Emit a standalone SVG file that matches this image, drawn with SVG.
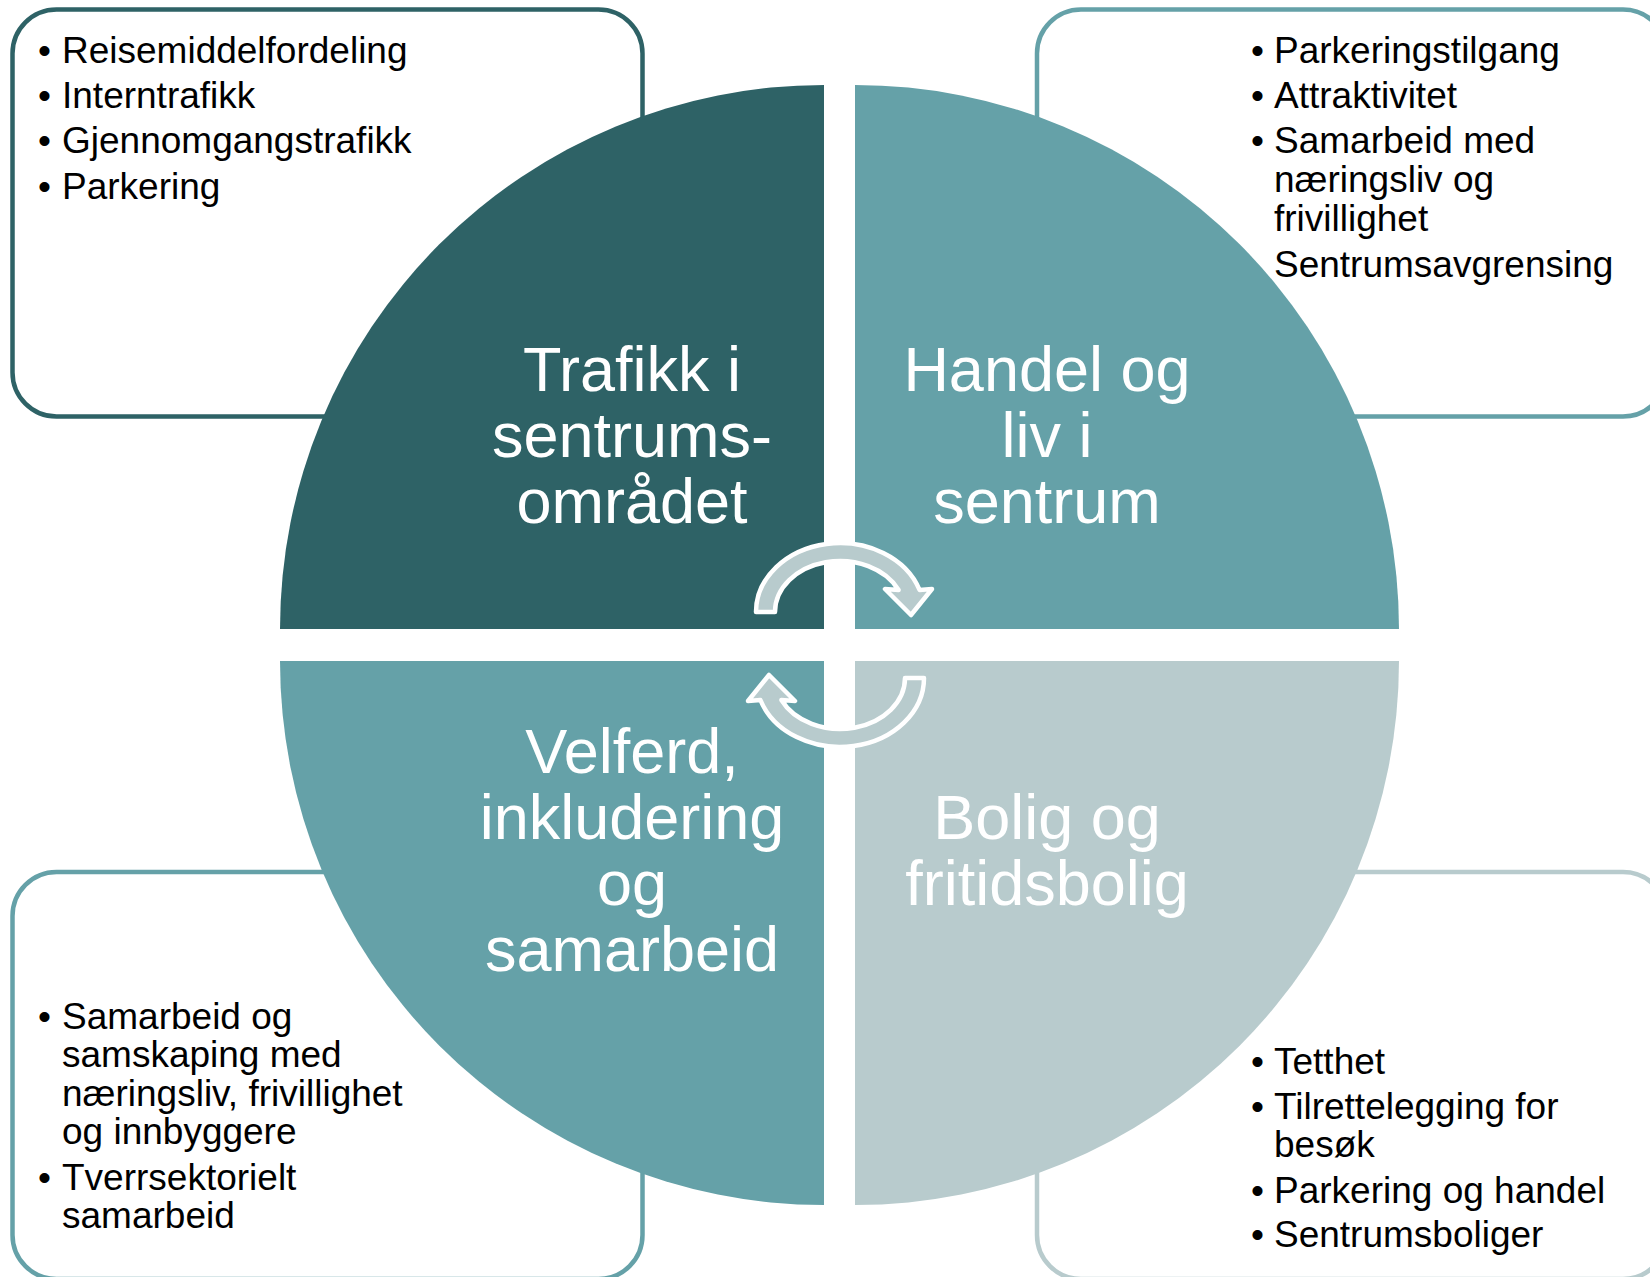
<svg xmlns="http://www.w3.org/2000/svg" width="1650" height="1277" viewBox="0 0 1650 1277">
<style>
.box{fill:#fff;stroke-width:4.5}
.dark{fill:#2E6266}
.mid{fill:#65A1A8}
.light{fill:#B8CBCD}
.list{font-family:"Liberation Sans",Arial,sans-serif;font-size:37px;fill:#000}
.title{font-family:"Liberation Sans",Arial,sans-serif;font-size:63px;fill:#fff;text-anchor:middle}
.arrow{fill:#B8CBCD;stroke:#fff;stroke-width:4.5;stroke-linejoin:round}
</style>
<rect width="1650" height="1277" fill="#fff"/>
<g id="box-tl"><rect class="box" x="12.5" y="9.5" width="630" height="407" rx="44" stroke="#2E6266"/></g>
<g id="box-tr"><rect class="box" x="1037" y="9.5" width="630" height="407" rx="44" stroke="#65A1A8"/></g>
<g id="box-bl"><rect class="box" x="12.5" y="872" width="630" height="407" rx="44" stroke="#65A1A8"/></g>
<g id="box-br"><rect class="box" x="1037" y="872" width="630" height="407" rx="44" stroke="#B8CBCD"/></g>

<g id="quad-tl">
<path class="dark" d="M824 629 L280 629 A544 544 0 0 1 824 85 Z"/>
<text class="title" x="632"><tspan x="632" y="391">Trafikk i</tspan><tspan x="632" y="457">sentrums-</tspan><tspan x="632" y="523">området</tspan></text>
</g>
<g id="quad-tr">
<path class="mid" d="M855 629 L855 85 A544 544 0 0 1 1399 629 Z"/>
<text class="title" x="1047"><tspan x="1047" y="391">Handel og</tspan><tspan x="1047" y="457">liv i</tspan><tspan x="1047" y="523">sentrum</tspan></text>
</g>
<g id="quad-bl">
<path class="mid" d="M824 661 L824 1205 A544 544 0 0 1 280 661 Z"/>
<text class="title" x="632"><tspan x="632" y="773">Velferd,</tspan><tspan x="632" y="839">inkludering</tspan><tspan x="632" y="905">og</tspan><tspan x="632" y="971">samarbeid</tspan></text>
</g>
<g id="quad-br">
<path class="light" d="M855 661 L1399 661 A544 544 0 0 1 855 1205 Z"/>
<text class="title" x="1047"><tspan x="1047" y="839">Bolig og</tspan><tspan x="1047" y="905">fritidsbolig</tspan></text>
</g>

<g id="list-tl" class="list">
<text x="38" y="63">•</text><text x="62" y="63">Reisemiddelfordeling</text>
<text x="38" y="108">•</text><text x="62" y="108">Interntrafikk</text>
<text x="38" y="153">•</text><text x="62" y="153">Gjennomgangstrafikk</text>
<text x="38" y="199">•</text><text x="62" y="199">Parkering</text>
</g>
<g id="list-tr" class="list">
<text x="1251" y="63">•</text><text x="1274" y="63">Parkeringstilgang</text>
<text x="1251" y="108">•</text><text x="1274" y="108">Attraktivitet</text>
<text x="1251" y="153">•</text><text x="1274" y="153">Samarbeid med</text>
<text x="1274" y="192">næringsliv og</text>
<text x="1274" y="231">frivillighet</text>
<text x="1274" y="277">Sentrumsavgrensing</text>
</g>
<g id="list-bl" class="list">
<text x="38" y="1029">•</text><text x="62" y="1029">Samarbeid og</text>
<text x="62" y="1067">samskaping med</text>
<text x="62" y="1106">næringsliv, frivillighet</text>
<text x="62" y="1144">og innbyggere</text>
<text x="38" y="1190">•</text><text x="62" y="1190">Tverrsektorielt</text>
<text x="62" y="1228">samarbeid</text>
</g>
<g id="list-br" class="list">
<text x="1251" y="1074">•</text><text x="1274" y="1074">Tetthet</text>
<text x="1251" y="1119">•</text><text x="1274" y="1119">Tilrettelegging for</text>
<text x="1274" y="1157">besøk</text>
<text x="1251" y="1203">•</text><text x="1274" y="1203">Parkering og handel</text>
<text x="1251" y="1247">•</text><text x="1274" y="1247">Sentrumsboliger</text>
</g>

<g id="connectors">
<path id="arrow-top" class="arrow" d="M756 612 A84 69 0 0 1 919.6 590 L932 589 L911 615 L885 589 L898.6 590 A65 51 0 0 0 775 612 Z"/>
<path id="arrow-bottom" class="arrow" transform="rotate(180 840 645)" d="M756 612 A84 69 0 0 1 919.6 590 L932 589 L911 615 L885 589 L898.6 590 A65 51 0 0 0 775 612 Z"/>
</g>
</svg>
